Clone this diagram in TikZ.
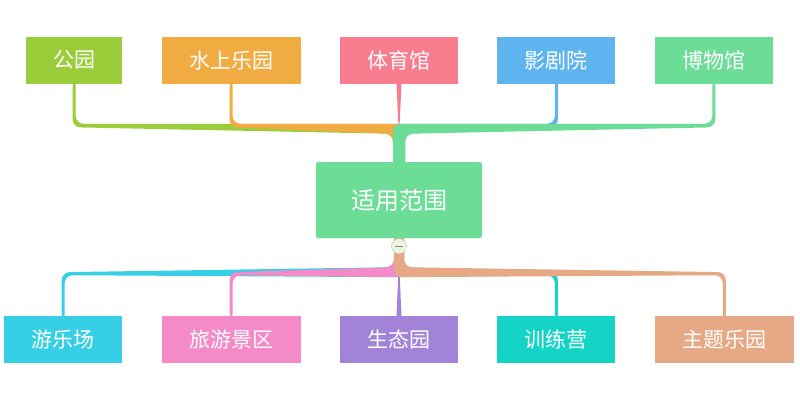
\documentclass[tikz,border=0pt]{standalone}
\usepackage{fontspec}
\newfontfamily\cjk{Noto Sans CJK SC}
\usetikzlibrary{positioning, backgrounds}

\definecolor{grass}{HTML}{9BCD3B}
\definecolor{amber}{HTML}{F0AC43}
\definecolor{rose}{HTML}{F87D8F}
\definecolor{sky}{HTML}{5EB4EF}
\definecolor{mint}{HTML}{6CDD97}
\definecolor{aqua}{HTML}{36CFE5}
\definecolor{blush}{HTML}{F58AC8}
\definecolor{lilac}{HTML}{A283D8}
\definecolor{jade}{HTML}{14D4C7}
\definecolor{salmon}{HTML}{E7A985}
\definecolor{foldfill}{HTML}{EAF4E0}
\definecolor{foldline}{HTML}{B4D29E}

\begin{document}
\begin{tikzpicture}[
    x = 1pt,
    y = 1pt,
    node distance = 39pt,
    ]

    \tikzstyle{leaf}=[
    minimum width = 118pt,
    minimum height = 47pt,
    inner sep = 0pt,
    text = white,
    font = \cjk\fontsize{21}{24}\selectfont,
    ]
    \tikzstyle{twig}=[rounded corners = 8pt]

    \useasboundingbox (0,0) rectangle (800,400);

    \node[leaf, fill=mint, minimum width=166pt, minimum height=76pt, rounded corners=2pt,
      font=\cjk\fontsize{24}{28}\selectfont] (fanwei) at (399,200) {适用范围};

    \node[leaf, fill=rose] (tiyu) [above=78pt of fanwei] {体育馆};
    \node[leaf, fill=amber, minimum width=139pt] (shuishang) [left=of tiyu] {水上乐园};
    \node[leaf, fill=grass, minimum width=96pt] (gongyuan) [left=of shuishang] {公园};
    \node[leaf, fill=sky] (yingju) [right=of tiyu] {影剧院};
    \node[leaf, fill=mint] (bowu) [right=of yingju] {博物馆};

    \node[leaf, fill=lilac] (shengtai) [below=78pt of fanwei] {生态园};
    \node[leaf, fill=blush, minimum width=139pt] (lvyou) [left=of shengtai] {旅游景区};
    \node[leaf, fill=aqua] (youle) [left=of lvyou] {游乐场};
    \node[leaf, fill=jade] (xunlian) [right=of shengtai] {训练营};
    \node[leaf, fill=salmon, minimum width=139pt] (zhuti) [right=of xunlian] {主题乐园};

    \coordinate (up) at ([yshift=38pt]fanwei.north);
    \coordinate (down) at ([yshift=-29pt]fanwei.south);

    \node[circle, draw=foldline, fill=foldfill, minimum size=15pt, inner sep=0pt] (fold)
      at ([yshift=-8pt]fanwei.south) {};
    \draw[foldline!70!black, line width=1pt] ([xshift=-4pt]fold.center) -- ([xshift=4pt]fold.center);

    \begin{scope}[on background layer]
    % upper branches
    \fill[rose] ([xshift=-2.5pt]tiyu.south) -- ([xshift=2.5pt]tiyu.south) -- ([yshift=-14pt]up) -- cycle;
    \fill[grass, twig] ([xshift=6pt,yshift=-6pt]fanwei.north) -- ([xshift=6pt]up) -- ([xshift=1.5pt]gongyuan.south |- up) -- ([xshift=1.5pt,yshift=6pt]gongyuan.south) -- ([xshift=-1.5pt,yshift=6pt]gongyuan.south) -- ([xshift=-1.5pt,yshift=-3.5pt]gongyuan.south |- up) -- ([xshift=-6pt,yshift=-10pt]up) -- ([xshift=-6pt,yshift=-6pt]fanwei.north) -- cycle;
    \fill[amber, twig] ([xshift=6pt,yshift=-6pt]fanwei.north) -- ([xshift=6pt]up) -- ([xshift=1.5pt]shuishang.south |- up) -- ([xshift=1.5pt,yshift=6pt]shuishang.south) -- ([xshift=-1.5pt,yshift=6pt]shuishang.south) -- ([xshift=-1.5pt,yshift=-3.5pt]shuishang.south |- up) -- ([xshift=-6pt,yshift=-10pt]up) -- ([xshift=-6pt,yshift=-6pt]fanwei.north) -- cycle;
    \fill[sky, twig] ([xshift=-6pt,yshift=-6pt]fanwei.north) -- ([xshift=-6pt]up) -- ([xshift=-1.5pt]yingju.south |- up) -- ([xshift=-1.5pt,yshift=6pt]yingju.south) -- ([xshift=1.5pt,yshift=6pt]yingju.south) -- ([xshift=1.5pt,yshift=-3.5pt]yingju.south |- up) -- ([xshift=6pt,yshift=-10pt]up) -- ([xshift=6pt,yshift=-6pt]fanwei.north) -- cycle;
    \fill[mint, twig] ([xshift=-6pt,yshift=-6pt]fanwei.north) -- ([xshift=-6pt]up) -- ([xshift=-1.5pt]bowu.south |- up) -- ([xshift=-1.5pt,yshift=6pt]bowu.south) -- ([xshift=1.5pt,yshift=6pt]bowu.south) -- ([xshift=1.5pt,yshift=-3.5pt]bowu.south |- up) -- ([xshift=6pt,yshift=-10pt]up) -- ([xshift=6pt,yshift=-6pt]fanwei.north) -- cycle;

    % lower branches
    \fill[lilac] ([xshift=-2.5pt]shengtai.north) -- ([xshift=2.5pt]shengtai.north) -- ([yshift=8pt]down) -- cycle;
    \fill[aqua, twig] ([xshift=5pt,yshift=6pt]fanwei.south) -- ([xshift=5pt,yshift=-10pt]down) -- ([xshift=1.5pt,yshift=-8pt]youle.north |- down) -- ([xshift=1.5pt,yshift=-6pt]youle.north) -- ([xshift=-1.5pt,yshift=-6pt]youle.north) -- ([xshift=-1.5pt,yshift=-5pt]youle.north |- down) -- ([xshift=-5pt]down) -- ([xshift=-5pt,yshift=6pt]fanwei.south) -- cycle;
    \fill[blush, twig] ([xshift=5pt,yshift=6pt]fanwei.south) -- ([xshift=5pt,yshift=-10pt]down) -- ([xshift=1.5pt,yshift=-8pt]lvyou.north |- down) -- ([xshift=1.5pt,yshift=-6pt]lvyou.north) -- ([xshift=-1.5pt,yshift=-6pt]lvyou.north) -- ([xshift=-1.5pt,yshift=-5pt]lvyou.north |- down) -- ([xshift=-5pt]down) -- ([xshift=-5pt,yshift=6pt]fanwei.south) -- cycle;
    \fill[jade, twig] ([xshift=-5pt,yshift=6pt]fanwei.south) -- ([xshift=-5pt,yshift=-10pt]down) -- ([xshift=-1.5pt,yshift=-8pt]xunlian.north |- down) -- ([xshift=-1.5pt,yshift=-6pt]xunlian.north) -- ([xshift=1.5pt,yshift=-6pt]xunlian.north) -- ([xshift=1.5pt,yshift=-5pt]xunlian.north |- down) -- ([xshift=5pt]down) -- ([xshift=5pt,yshift=6pt]fanwei.south) -- cycle;
    \fill[salmon, twig] ([xshift=-5pt,yshift=6pt]fanwei.south) -- ([xshift=-5pt,yshift=-10pt]down) -- ([xshift=-1.5pt,yshift=-8pt]zhuti.north |- down) -- ([xshift=-1.5pt,yshift=-6pt]zhuti.north) -- ([xshift=1.5pt,yshift=-6pt]zhuti.north) -- ([xshift=1.5pt,yshift=-5pt]zhuti.north |- down) -- ([xshift=5pt]down) -- ([xshift=5pt,yshift=6pt]fanwei.south) -- cycle;
    \end{scope}
  \end{tikzpicture}
\end{document}
